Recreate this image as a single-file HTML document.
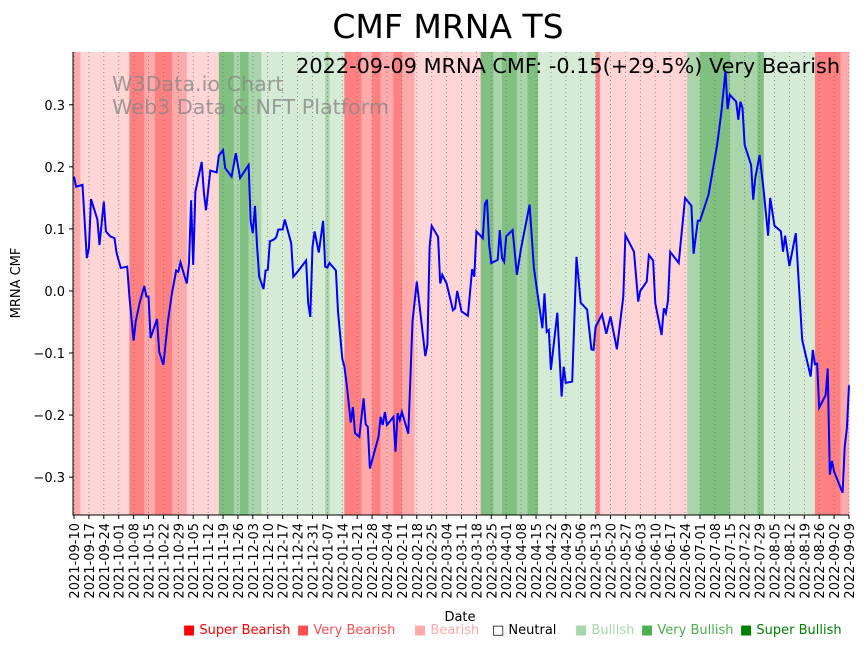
<!DOCTYPE html>
<html><head><meta charset="utf-8">
<style>
body{margin:0;background:#fff;width:864px;height:646px;overflow:hidden;font-family:"DejaVu Sans","Liberation Sans",sans-serif;}
svg{display:block}
</style></head>
<body>
<svg id="chart" width="864" height="646" xmlns="http://www.w3.org/2000/svg">
<text x="448" y="38" font-size="33" text-anchor="middle">CMF MRNA TS</text>
<g id="bands"></g>
<g id="grid"></g>
<g fill="#888" fill-opacity="0.8" font-size="20.7">
<text x="112" y="91">W3Data.io Chart</text>
<text x="112" y="114">Web3 Data &amp; NFT Platform</text>
</g>
<text x="840" y="73" font-size="20.8" text-anchor="end">2022-09-09 MRNA CMF: -0.15(+29.5%) Very Bearish</text>
<path id="line" fill="none" stroke="#0000ff" stroke-width="2"/>
<g id="yaxis"></g>
<g id="xaxis"></g>
<text transform="translate(20,283) rotate(-90)" font-size="13" text-anchor="middle">MRNA CMF</text>
<text x="460" y="621" font-size="13" text-anchor="middle">Date</text>
<g font-size="13">
<text x="183" y="634" fill="#ff0000">■ Super Bearish</text>
<text x="297" y="634" fill="#ff5050">■ Very Bearish</text>
<text x="414" y="634" fill="#ffaaaa">■ Bearish</text>
<text x="492" y="634" fill="#000">□ Neutral</text>
<text x="575" y="634" fill="#a8d8a8">■ Bullish</text>
<text x="641" y="634" fill="#4caf50">■ Very Bullish</text>
<text x="740" y="634" fill="#008000">■ Super Bullish</text>
</g>
</svg>
<script>
const days=[0,1,4,6,7,8,11,12,14,15,17,19,20,22,25,26,28,29,31,33,34,35,36,39,40,42,44,46,48,49,50,52,53,54,55,56,57,60,61,62,64,67,68,70,71,74,76,78,82,83,84,85,86,87,89,90,91,92,94,95,96,98,99,102,103,105,109,110,111,112,113,115,117,118,119,120,123,124,126,127,128,130,131,132,134,136,137,138,139,143,144,145,146,147,150,151,152,153,154,157,159,161,165,166,167,168,171,172,173,175,178,179,180,182,185,187,188,189,192,193,194,195,196,199,200,201,202,203,206,208,210,214,216,220,221,222,223,224,227,229,230,231,234,236,238,241,243,244,245,248,250,252,255,258,259,263,265,266,269,270,272,273,276,277,278,279,280,284,287,290,291,293,294,298,302,304,306,307,308,311,312,313,314,315,318,319,320,322,324,326,327,329,332,333,334,336,339,342,346,347,348,349,350,353,354,355,356,357,361,362,363,364];
const cmf=[0.184,0.168,0.171,0.053,0.069,0.148,0.115,0.074,0.144,0.096,0.088,0.085,0.061,0.037,0.039,-0.009,-0.080,-0.049,-0.017,0.008,-0.009,-0.009,-0.076,-0.045,-0.098,-0.119,-0.052,-0.004,0.033,0.031,0.046,0.023,0.012,0.045,0.146,0.042,0.160,0.208,0.158,0.130,0.194,0.191,0.218,0.227,0.198,0.184,0.222,0.182,0.203,0.112,0.093,0.137,0.071,0.023,0.003,0.033,0.034,0.080,0.083,0.087,0.099,0.099,0.115,0.077,0.023,0.031,0.049,-0.020,-0.042,0.071,0.096,0.062,0.113,0.039,0.038,0.045,0.033,-0.033,-0.109,-0.122,-0.148,-0.212,-0.187,-0.229,-0.235,-0.173,-0.215,-0.219,-0.286,-0.235,-0.203,-0.216,-0.195,-0.216,-0.203,-0.259,-0.197,-0.208,-0.195,-0.230,-0.049,0.015,-0.105,-0.087,0.071,0.105,0.087,0.012,0.026,0.012,-0.031,-0.028,0.000,-0.033,-0.040,0.035,0.023,0.096,0.085,0.140,0.147,0.074,0.045,0.050,0.098,0.053,0.047,0.088,0.098,0.026,0.069,0.139,0.037,-0.060,-0.004,-0.066,-0.063,-0.127,-0.035,-0.170,-0.122,-0.148,-0.146,0.055,-0.019,-0.030,-0.094,-0.095,-0.058,-0.038,-0.069,-0.041,-0.094,-0.009,0.090,0.063,-0.017,0.000,0.015,0.058,0.049,-0.020,-0.071,-0.028,-0.036,-0.015,0.063,0.045,0.150,0.137,0.060,0.113,0.113,0.155,0.234,0.287,0.354,0.293,0.316,0.305,0.276,0.305,0.295,0.235,0.203,0.147,0.182,0.219,0.160,0.089,0.150,0.105,0.096,0.063,0.089,0.040,0.093,-0.079,-0.138,-0.095,-0.118,-0.117,-0.188,-0.168,-0.125,-0.296,-0.274,-0.291,-0.325,-0.251,-0.221,-0.152];
const bandStart=[0,3,26,33,38,46,53,68,75,78,82,88,118,120,127,135,140,144,150,154,160,191,197,201,208,213,218,245,247,288,294,308,321,324,348,360];
const bandEnd=[3,26,33,38,46,53,68,75,78,82,88,118,120,127,135,140,144,150,154,160,191,197,201,208,213,218,245,247,288,294,308,321,324,348,360,364];
const bandLevel=[-2,-1,-3,-2,-3,-2,-1,3,2,3,2,1,2,1,-3,-2,-3,-2,-3,-2,-1,3,2,3,2,3,1,-3,-1,2,3,2,3,1,-3,-2];
const yTicks=[0.3,0.2,0.1,0.0,-0.1,-0.2,-0.3];
const startDate='2021-09-10';

const NS='http://www.w3.org/2000/svg';
const X0=74,X1=849,D0=0,D1=364,Y0=52,Y1=515,V0=0.385,V1=-0.361;
function xs(d){return X0+(d-D0)/(D1-D0)*(X1-X0);}
function ys(v){return Y0+(V0-v)/(V0-V1)*(Y1-Y0);}
const colors={'-3':'#ff8080','-2':'#ffaaaa','-1':'#ffd5d5','1':'#d5ebd5','2':'#aad5aa','3':'#80c080'};
const bands=document.getElementById('bands');
for(let i=0;i<bandStart.length;i++){
 const r=document.createElementNS(NS,'rect');
 
 
 const a=i===0?73:xs(bandStart[i]),b=i===bandStart.length-1?849:xs(bandEnd[i]);
 r.setAttribute('x',a);r.setAttribute('y',Y0);r.setAttribute('width',b-a+0.3);r.setAttribute('height',Y1-Y0);
 r.setAttribute('fill',colors[bandLevel[i]]);bands.appendChild(r);
}
const grid=document.getElementById('grid'),xaxis=document.getElementById('xaxis');
const sd=new Date(startDate+'T00:00:00Z');
for(let d=0;d<=364;d+=7){
 const x=xs(d);
 const l=document.createElementNS(NS,'line');
 
 
 l.setAttribute('x1',x);l.setAttribute('x2',x);l.setAttribute('y1',Y0);l.setAttribute('y2',Y1);
 l.setAttribute('stroke','#777');l.setAttribute('stroke-width','0.8');l.setAttribute('stroke-dasharray','1,3');grid.appendChild(l);
 const t=document.createElementNS(NS,'line');
 
 
 t.setAttribute('x1',x);t.setAttribute('x2',x);t.setAttribute('y1',Y1);t.setAttribute('y2',Y1+4);t.setAttribute('stroke','#000');xaxis.appendChild(t);
 const dt=new Date(sd.getTime()+d*86400000);
 const tx=document.createElementNS(NS,'text');
 
 
 tx.setAttribute('font-size','13');tx.setAttribute('text-anchor','end');
 tx.setAttribute('transform','translate('+(x+5)+','+(Y1+8)+') rotate(-90)');
 tx.textContent=dt.toISOString().slice(0,10);xaxis.appendChild(tx);
}
const sp=document.createElementNS(NS,'line');


sp.setAttribute('x1',72.5);sp.setAttribute('x2',849);sp.setAttribute('y1',Y1);sp.setAttribute('y2',Y1);sp.setAttribute('stroke','#000');xaxis.appendChild(sp);
const yaxis=document.getElementById('yaxis');
const ysp=document.createElementNS(NS,'line');


ysp.setAttribute('x1',73);ysp.setAttribute('x2',73);ysp.setAttribute('y1',Y0);ysp.setAttribute('y2',Y1);ysp.setAttribute('stroke','#000');yaxis.appendChild(ysp);
yTicks.forEach(v=>{
 const y=ys(v);
 const t=document.createElementNS(NS,'line');
 
 
 t.setAttribute('x1',69);t.setAttribute('x2',73);t.setAttribute('y1',y);t.setAttribute('y2',y);t.setAttribute('stroke','#000');yaxis.appendChild(t);
 const tx=document.createElementNS(NS,'text');
 
 
 tx.setAttribute('x',65);tx.setAttribute('y',y+5);tx.setAttribute('font-size','13');tx.setAttribute('text-anchor','end');
 tx.textContent=(v<0?'\u2212':'')+Math.abs(v).toFixed(1);yaxis.appendChild(tx);
});
let p='';
for(let i=0;i<days.length;i++){p+=(i?'L':'M')+xs(days[i]).toFixed(1)+','+ys(cmf[i]).toFixed(1);}
document.getElementById('line').setAttribute('d',p);
</script>
</body></html>
